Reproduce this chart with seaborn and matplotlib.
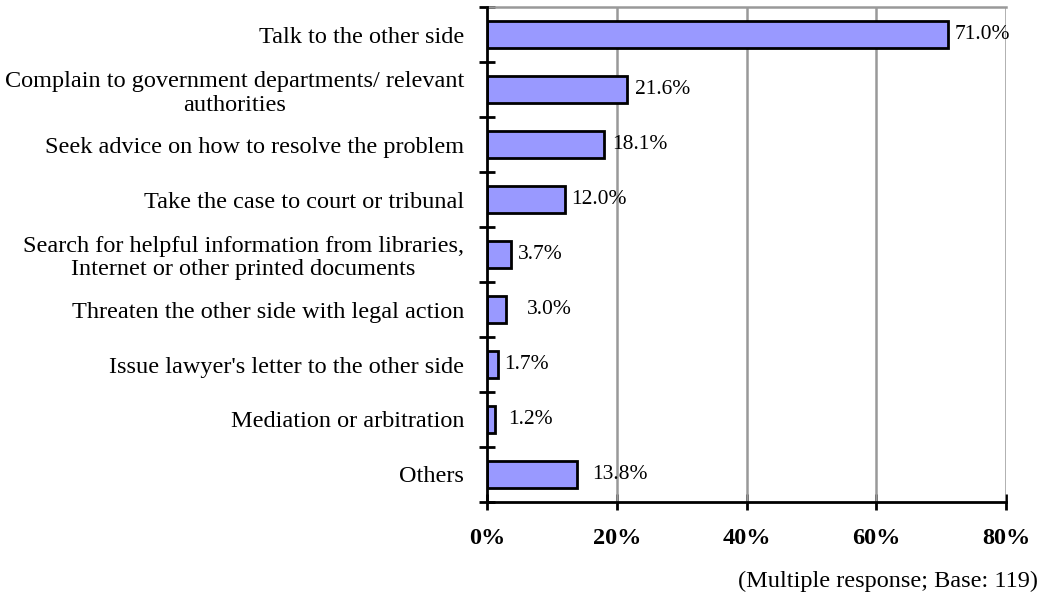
import matplotlib
matplotlib.use("Agg")
import matplotlib.pyplot as plt
import seaborn as sns
from matplotlib.ticker import FixedLocator

# Data
categories = [
    "Talk to the other side",
    "Complain to government departments/ relevant\nauthorities",
    "Seek advice on how to resolve the problem",
    "Take the case to court or tribunal",
    "Search for helpful information from libraries,\nInternet or other printed documents",
    "Threaten the other side with legal action",
    "Issue lawyer's letter to the other side",
    "Mediation or arbitration",
    "Others",
]
values = [71.0, 21.6, 18.1, 12.0, 3.7, 3.0, 1.7, 1.2, 13.8]
value_labels = ["71.0%", "21.6%", "18.1%", "12.0%", "3.7%", "3.0%", "1.7%", "1.2%", "13.8%"]
label_offsets = [1.0, 1.2, 1.2, 1.0, 1.0, 3.2, 1.0, 2.0, 2.4]
xticks = [0, 20, 40, 60, 80]
xtick_labels = ["0%", "20%", "40%", "60%", "80%"]

sns.set_style("white")
plt.rcParams['font.family'] = ['Liberation Serif', 'DejaVu Serif']
plt.rcParams['text.color'] = 'black'
plt.rcParams['xtick.color'] = 'black'
plt.rcParams['ytick.color'] = 'black'

fig = plt.figure(figsize=(10.48, 5.99), dpi=100)
ax = fig.add_axes([0.4647, 0.162, 0.4953, 0.826])

sns.barplot(x=values, y=categories, orient="h", color="#9999FF", saturation=1,
            edgecolor="black", linewidth=2, width=0.5, ax=ax, zorder=3)

ax.set_xlim(0, 80)
ax.set_ylim(len(categories) - 0.5, -0.5)

# grid
ax.set_xticks(xticks)
ax.set_xticklabels(xtick_labels, fontsize=17.5, fontweight="bold")
for x in xticks[1:]:
    ax.axvline(x, color="#999999", lw=1.8, zorder=1)

ax.tick_params(axis="x", bottom=True, direction="inout", length=12, width=2, pad=13)
ax.tick_params(axis="y", which="major", left=False, length=0, pad=16.5, labelsize=17.5)
ax.yaxis.set_minor_locator(FixedLocator([i - 0.5 for i in range(len(categories) + 1)]))
ax.tick_params(axis="y", which="minor", left=True, direction="inout", length=12, width=2)
for lab in ax.get_yticklabels():
    lab.set_multialignment("center")
    lab.set_linespacing(1.15)

for side in ["left", "bottom"]:
    ax.spines[side].set_color("black")
    ax.spines[side].set_linewidth(2)
    ax.spines[side].set_zorder(5)
ax.spines["top"].set_color("#999999")
ax.spines["top"].set_linewidth(1.8)
ax.spines["right"].set_visible(False)
ax.set_xlabel("")
ax.set_ylabel("")

for i, (v, lab, off) in enumerate(zip(values, value_labels, label_offsets)):
    ax.text(v + off, i, lab, va="center", ha="left", fontsize=15.5, zorder=6)

fig.text(0.99, 0.03, "(Multiple response; Base: 119)", ha="right", va="center", fontsize=17.5)

fig.savefig("out.png", dpi=100)
